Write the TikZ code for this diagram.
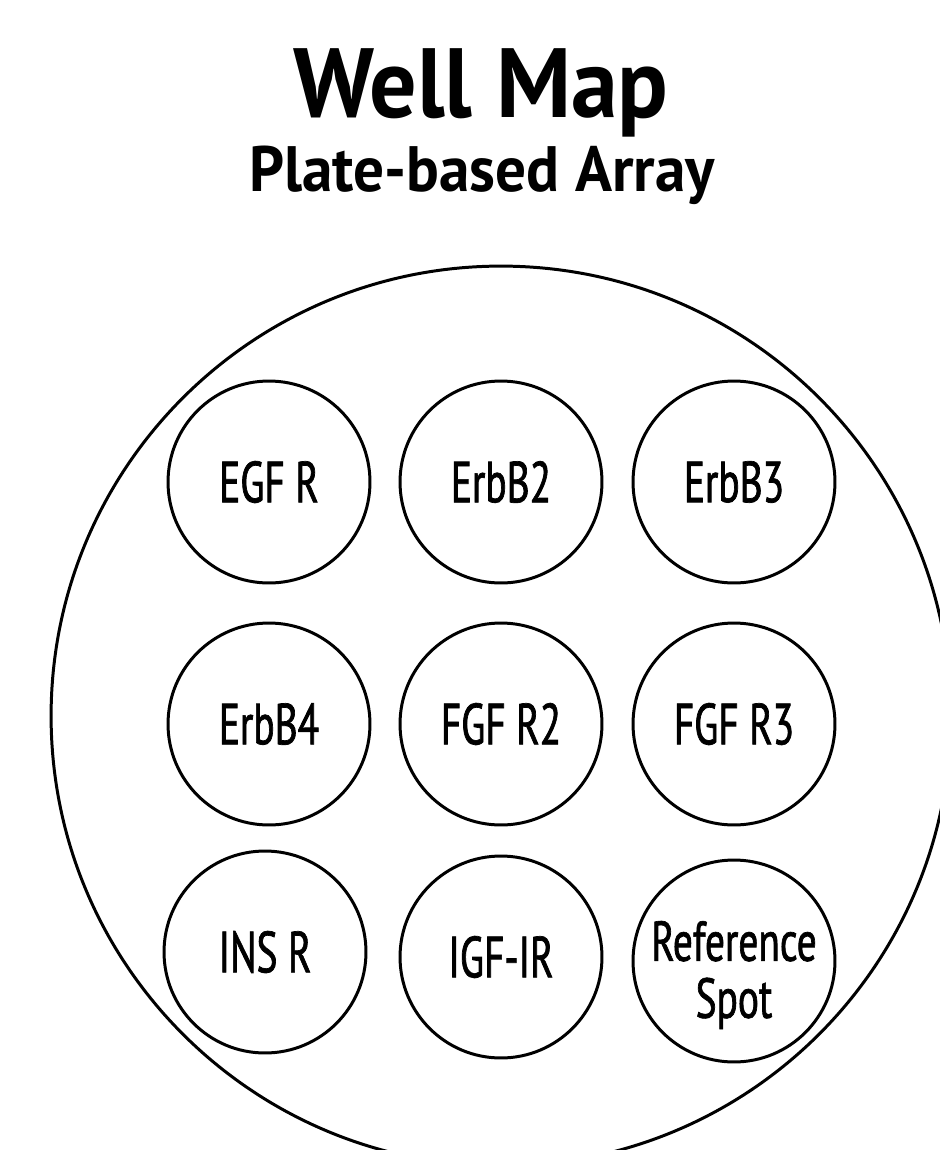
\documentclass[tikz,border=0pt]{standalone}
\usepackage{fontspec}
\setmainfont{PT Sans}
\newfontfamily\titlefont[FakeStretch=0.955]{PT Sans}
\newfontfamily\condfont[FakeStretch=0.68, FakeBold=1.2]{PT Sans}
\newfontfamily\reffont[FakeStretch=0.70, FakeBold=1.2]{PT Sans}
\usepackage{tikz}

\tikzset{
    well/.style={circle, draw, line width=1.7pt, inner sep=0pt, minimum size=4.04cm,
        align=center, font=\condfont\fontsize{33}{34}\selectfont},
    plate/.style={circle, draw, line width=1.7pt, inner sep=0pt, minimum size=18cm},
}

\begin{document}
\begin{tikzpicture}[x=0.02cm, y=-0.02cm]
    \useasboundingbox (0,0) rectangle (940,1150);
    \clip (0,0) rectangle (940,1150);
    \fill[white] (0,0) rectangle (940,1150);

    % title
    \node[anchor=base, inner sep=0pt, font=\titlefont\bfseries\fontsize{56}{60}\selectfont] (title) at (481,117) {Well Map};
    \node[anchor=base, inner sep=0pt, font=\titlefont\bfseries\fontsize{36.5}{40}\selectfont] (subtitle) at (482,191) {Plate-based Array};

    % the well
    \node[plate] (wellplate) at (501,716) {};

    % spots
    \node[well] (egfr)   at (269,482) {EGF R};
    \node[well] (erbbb)  at (501,482) {ErbB2};
    \node[well] (erbbc)  at (734,482) {ErbB3};

    \node[well] (erbbd)  at (269,724) {ErbB4};
    \node[well] (fgfrb)  at (501,724) {FGF R2};
    \node[well] (fgfrc)  at (734,724) {FGF R3};

    \node[well] (insr)   at (265,952) {INS R};
    \node[well] (igfir)  at (501,957) {IGF-IR};
    \node[well] (refspot) at (734,961) {};
    \node[align=center, inner sep=0pt, font=\reffont\fontsize{32}{32.4}\selectfont] (reflabel)
        at ([yshift=-0.28cm]refspot.center) {Reference\\Spot};
\end{tikzpicture}
\end{document}
